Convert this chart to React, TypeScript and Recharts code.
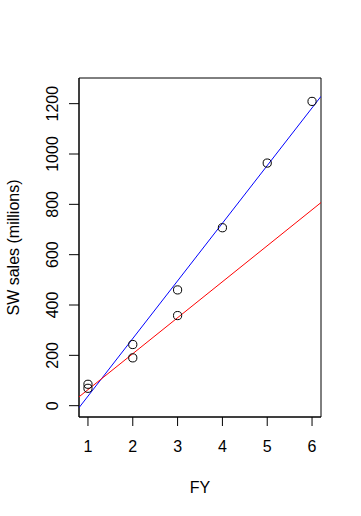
import { ComposedChart, ReferenceArea, Scatter, XAxis, YAxis } from "recharts";

const fy = [1, 1, 2, 2, 3, 3, 4, 5, 6];
const sales = [85, 69, 243, 190, 460, 358, 707, 964, 1209];
const fitX = [0.8, 6.2];
const blueFit = [-8, 1229];
const redFit = [35, 807];
const xTicks = [1, 2, 3, 4, 5, 6];
const yTicks = [0, 200, 400, 600, 800, 1000, 1200];
const xRange = [0.8, 6.2];
const yRange = [-45, 1302];

const points = fy.map((x, i) => ({ x, y: sales[i] }));
const blueLine = fitX.map((x, i) => ({ x, y: blueFit[i] }));
const redLine = fitX.map((x, i) => ({ x, y: redFit[i] }));

const FONT = "'Liberation Sans', Arial, sans-serif";
const FS = 16;

function YTick(props: any) {
  const { y, payload } = props;
  return (
    <g transform={`translate(52,${y}) rotate(-90)`}>
      <text textAnchor="middle" dy="0.36em" fontSize={FS} fontFamily={FONT} fill="#000">
        {payload.value}
      </text>
    </g>
  );
}

function Circle(props: any) {
  const { cx, cy } = props;
  return <circle cx={cx} cy={cy} r={4.1} fill="none" stroke="#000" strokeWidth={1} />;
}

export default function App() {
  return (
    <div style={{ position: "absolute", left: 0, top: 0, background: "#fff" }}>
      <ComposedChart
        width={361}
        height={516}
        margin={{ top: 78, right: 40, bottom: 0, left: 0 }}
      >
        <XAxis
          type="number"
          dataKey="x"
          domain={xRange}
          ticks={xTicks}
          allowDataOverflow
          height={99}
          tickSize={9}
          tickMargin={15}
          stroke="#000"
          tick={{ fill: "#000", fontSize: FS, fontFamily: FONT }}
          label={{ value: "FY", position: "insideBottom", offset: 23, fill: "#000", fontSize: FS, fontFamily: FONT }}
        />
        <YAxis
          type="number"
          dataKey="y"
          domain={yRange}
          ticks={yTicks}
          allowDataOverflow
          width={79}
          tickSize={10}
          stroke="#000"
          tick={<YTick />}
          label={{
            content: (p: any) => {
              const vb = p.viewBox;
              const cy = vb.y + vb.height / 2;
              return (
                <g transform={`translate(13.5,${cy}) rotate(-90)`}>
                  <text textAnchor="middle" dy="0.36em" fontSize={FS} fontFamily={FONT} fill="#000">
                    SW sales (millions)
                  </text>
                </g>
              );
            },
          }}
        />
        <ReferenceArea
          x1={xRange[0]}
          x2={xRange[1]}
          y1={yRange[0]}
          y2={yRange[1]}
          fill="none"
          fillOpacity={0}
          stroke="#000"
          strokeWidth={1}
          ifOverflow="visible"
        />
        <Scatter data={blueLine} line={{ stroke: "#0000ff", strokeWidth: 1 }} shape={() => null} isAnimationActive={false} />
        <Scatter data={redLine} line={{ stroke: "#ff0000", strokeWidth: 1 }} shape={() => null} isAnimationActive={false} />
        <Scatter data={points} shape={<Circle />} isAnimationActive={false} />
      </ComposedChart>
    </div>
  );
}
